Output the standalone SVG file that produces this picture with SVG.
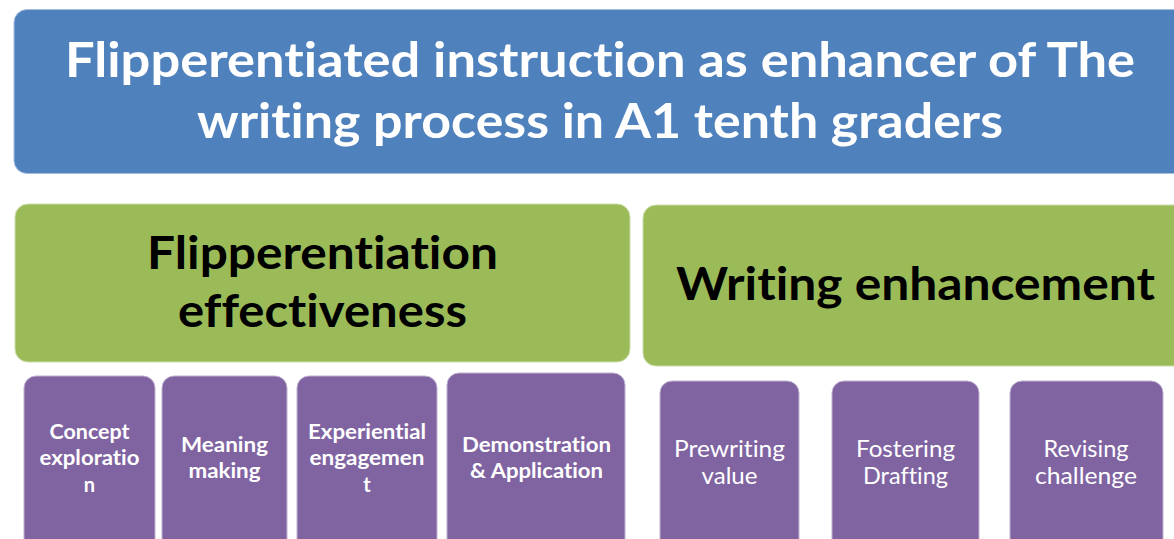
<svg xmlns="http://www.w3.org/2000/svg" width="1174" height="539" viewBox="0 0 1174 539">
<style>
.blue{fill:#4F81BD;stroke:#a7bfde;stroke-width:1}
.green{fill:#9BBB59;stroke:#cddcab;stroke-width:1}
.purple{fill:#8064A2;stroke:#bfb1d0;stroke-width:1}
text{font-family:Lato,"Open Sans","Liberation Sans",sans-serif;text-anchor:middle;font-variant-ligatures:none}
.t1{fill:#fff;font-weight:bold;font-size:48px}
.t2{fill:#000;font-weight:bold;font-size:46px}
.t3{fill:#fff;font-weight:bold;font-size:20px}
.t4{fill:#fff;font-weight:normal;font-size:23px}
</style>
<rect width="1174" height="539" fill="#fff"/>
<g id="title">
<rect class="blue" x="14" y="9.5" width="1180" height="164" rx="13"/>
<text class="t1" x="600" y="77" textLength="1070" lengthAdjust="spacingAndGlyphs">Flipperentiated instruction as enhancer of The</text>
<text class="t1" x="600" y="138" textLength="806" lengthAdjust="spacingAndGlyphs">writing process in A1 tenth graders</text>
</g>
<g id="flipperentiation">
<rect class="green" x="15" y="204" width="615" height="158" rx="13"/>
<text class="t2" x="322.5" y="269" textLength="351" lengthAdjust="spacingAndGlyphs">Flipperentiation</text>
<text class="t2" x="322.5" y="327" textLength="289" lengthAdjust="spacingAndGlyphs">effectiveness</text>
</g>
<g id="writing">
<rect class="green" x="643" y="205" width="560" height="161" rx="13"/>
<text class="t2" x="915.5" y="300" textLength="479" lengthAdjust="spacingAndGlyphs">Writing enhancement</text>
</g>
<g id="concept">
<rect class="purple" x="24" y="376" width="131" height="180" rx="12"/>
<text class="t3" x="89.5" y="439" textLength="80" lengthAdjust="spacingAndGlyphs">Concept</text>
<text class="t3" x="89.5" y="465" textLength="100" lengthAdjust="spacingAndGlyphs">exploratio</text>
<text class="t3" x="89.5" y="492">n</text>
</g>
<g id="meaning">
<rect class="purple" x="162" y="376" width="125" height="180" rx="12"/>
<text class="t3" x="224.5" y="452" textLength="87" lengthAdjust="spacingAndGlyphs">Meaning</text>
<text class="t3" x="224.5" y="478" textLength="72" lengthAdjust="spacingAndGlyphs">making</text>
</g>
<g id="experiential">
<rect class="purple" x="297" y="376" width="140" height="180" rx="12"/>
<text class="t3" x="367" y="439" textLength="118" lengthAdjust="spacingAndGlyphs">Experiential</text>
<text class="t3" x="367" y="465" textLength="115" lengthAdjust="spacingAndGlyphs">engagemen</text>
<text class="t3" x="367" y="492">t</text>
</g>
<g id="demonstration">
<rect class="purple" x="447" y="373" width="178" height="183" rx="12"/>
<text class="t3" x="536.5" y="452" textLength="149" lengthAdjust="spacingAndGlyphs">Demonstration</text>
<text class="t3" x="536.5" y="478" textLength="133" lengthAdjust="spacingAndGlyphs">&amp; Application</text>
</g>
<g id="prewriting">
<rect class="purple" x="660" y="381" width="139" height="175" rx="12"/>
<text class="t4" x="729.5" y="457" textLength="111" lengthAdjust="spacingAndGlyphs">Prewriting</text>
<text class="t4" x="729.5" y="484" textLength="56" lengthAdjust="spacingAndGlyphs">value</text>
</g>
<g id="fostering">
<rect class="purple" x="832" y="381" width="147" height="175" rx="12"/>
<text class="t4" x="905.5" y="457" textLength="99" lengthAdjust="spacingAndGlyphs">Fostering</text>
<text class="t4" x="905.5" y="484" textLength="85" lengthAdjust="spacingAndGlyphs">Drafting</text>
</g>
<g id="revising">
<rect class="purple" x="1010" y="381" width="153" height="175" rx="12"/>
<text class="t4" x="1086" y="457" textLength="85" lengthAdjust="spacingAndGlyphs">Revising</text>
<text class="t4" x="1086" y="484" textLength="102" lengthAdjust="spacingAndGlyphs">challenge</text>
</g>
<g id="connectors"></g>
</svg>
